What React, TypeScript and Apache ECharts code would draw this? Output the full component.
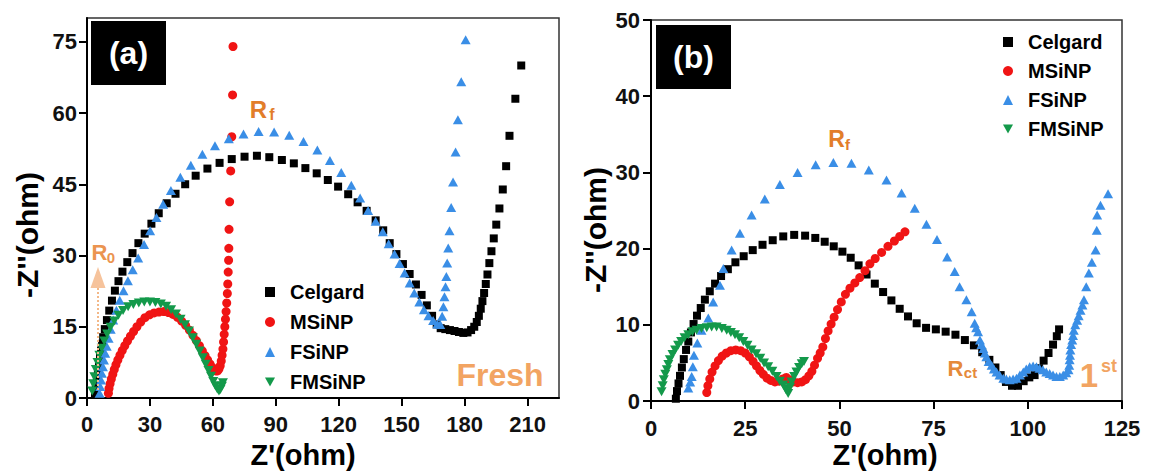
import React, { useEffect, useRef } from "react";
import * as echarts from "echarts";

// ---------- Data (Z', -Z'') ----------
const seriesNames = ["Celgard", "MSiNP", "FSiNP", "FMSiNP"];
const seriesColors = ["#000000", "#f01414", "#3a8ee6", "#13994a"];

const xTicksA = [0, 30, 60, 90, 120, 150, 180, 210];
const yTicksA = [0, 15, 30, 45, 60, 75];
const xTicksB = [0, 25, 50, 75, 100, 125];
const yTicksB = [0, 10, 20, 30, 40, 50];

const celgardA = [
  [3.8, 1], [4.2, 2.5], [4.7, 4], [5.2, 5.5], [5.7, 7], [6.2, 8.5], [6.7, 10], [7.2, 11.4], [7.7, 12.8],
  [8.5, 14.5], [9.5, 16.4], [10.6, 18.4], [11.9, 20.5], [13.3, 22.6], [15, 24.6], [16.9, 26.6], [19.2, 28.6],
  [21.7, 30.5], [24.5, 32.6], [27.5, 34.6], [30.7, 36.7], [34.2, 38.9], [38, 41], [42.2, 43], [46.8, 45],
  [51.8, 46.8], [57.4, 48.3], [63.2, 49.5], [69, 50.3], [75.1, 50.8], [81, 51], [86.9, 50.7], [92.9, 50.1],
  [98.6, 49.4], [104.1, 48.4], [109.5, 47.3], [114.8, 45.9], [119.7, 44.5], [124.5, 42.9], [129, 41.2],
  [133.3, 39.4], [137.6, 37.4], [141.2, 35.3], [144.3, 32.6], [147.5, 30.3], [150.6, 28.2], [153.8, 26.1],
  [156.8, 23.9], [159.5, 21.7], [162, 19.5], [164.5, 17.3], [166.7, 15.5], [168.6, 14.7], [170.8, 14.5],
  [173, 14.3], [175.2, 14.1], [177.3, 13.9], [179.4, 13.7], [181.4, 13.8], [183.1, 14.3], [184.6, 15],
  [185.8, 16], [186.8, 17.3], [187.7, 18.8], [188.5, 20.4], [189.3, 22.1], [190.1, 24], [190.9, 26],
  [191.8, 28.4], [192.8, 30.9], [193.9, 33.6], [195.1, 36.5], [196.6, 39.9], [198.2, 43.9], [199.8, 48.8],
  [201.4, 55.2], [204.2, 63], [207, 70],
];

const msinpA = [
  [10.2, 1], [10.5, 2], [11, 3], [11.6, 4], [12.3, 5], [13, 6], [13.8, 7], [14.7, 8], [15.7, 9], [16.8, 10],
  [18, 11], [19.3, 12], [20.7, 13], [22.2, 14], [23.8, 15], [25.6, 16], [27.6, 16.9], [29.8, 17.5], [32, 17.9],
  [34.3, 18.1], [36.6, 18.2], [38.8, 18], [41, 17.6], [43.1, 17], [45.1, 16.2], [47, 15.3], [48.8, 14.3],
  [50.5, 13.2], [52.1, 12.1], [53.6, 11], [55, 9.9], [56.3, 8.9], [57.5, 8], [58.6, 7.2], [59.6, 6.5],
  [60.5, 6], [61.4, 5.7], [62.2, 5.7], [62.9, 6.1], [63.5, 6.8], [64, 7.8], [64.4, 9], [64.8, 10.3],
  [65.1, 11.8], [65.4, 13.4], [65.7, 15], [66, 16.6], [66.3, 18.2], [66.6, 20], [66.9, 22], [67.1, 24],
  [67.3, 26.5], [67.5, 29], [67.6, 31.5], [67.7, 35.5], [68, 41.3], [68.5, 47.8], [69, 55], [69.4, 63.8],
  [69.6, 74],
];

const fsinpA = [
  [6, 1], [6.3, 2.4], [6.7, 3.8], [7.1, 5.2], [7.6, 6.6], [8.1, 8], [8.7, 9.4], [9.4, 10.9], [10.3, 12.6],
  [11.3, 14.5], [12.5, 16.4], [14, 18.5], [15.6, 20.6], [17.4, 22.6], [19.5, 24.7], [21.8, 27], [24.4, 29.5],
  [27.2, 32.3], [30.1, 35.2], [33.1, 38], [36.3, 40.8], [40, 43.7], [44.5, 46.5], [49.5, 49], [55, 51.3],
  [61, 53.1], [67.6, 54.6], [74.6, 55.6], [81.8, 56.1], [89.2, 56], [96.4, 55.3], [103.2, 54], [109.8, 52.2],
  [115.8, 50], [121.2, 47.5], [126, 44.8], [130.2, 42.1], [134, 39.5], [137.6, 37.2], [141, 35], [143.8, 32.5],
  [146.6, 30.3], [149, 28.3], [151.4, 26.3], [153.8, 24.2], [156, 22.1], [158.4, 20.2], [160.6, 18.6],
  [162.8, 17.3], [165, 16.3], [167, 15.6], [168.4, 15.5], [169.3, 17.2], [169.9, 19.2], [170.4, 21.3],
  [170.9, 23.4], [171.3, 25.6], [171.7, 28.4], [172.2, 31.6], [172.8, 35.2], [173.6, 40.1], [174.5, 45.5],
  [175.7, 51.8], [176.8, 58.6], [178.4, 66.6], [180.5, 75.4],
];

const fmsinpA = [
  [2.5, 1.5], [3, 3], [3.5, 4.5], [4.2, 6], [5, 7.5], [5.9, 9], [7, 10.5], [8.2, 12], [9.6, 13.5], [11.2, 14.9],
  [13, 16.2], [15, 17.4], [17.2, 18.4], [19.6, 19.2], [22.1, 19.7], [24.7, 20], [27.3, 20.2], [30, 20.2],
  [32.6, 20.1], [35.2, 19.8], [37.7, 19.3], [40.1, 18.6], [42.4, 17.7], [44.6, 16.6], [46.7, 15.4], [48.6, 14.1],
  [50.4, 12.7], [52.1, 11.3], [53.7, 9.9], [55.2, 8.5], [56.6, 7.1], [57.9, 5.8], [59.1, 4.6], [60.2, 3.5],
  [61.2, 2.6], [62.1, 1.9], [62.9, 1.5], [63.6, 1.8], [64.3, 2.5], [64.8, 3.2],
];

const celgardB = [
  [6.6, 0.3], [6.9, 1.3], [7.3, 2.3], [7.7, 3.3], [8.2, 4.4], [8.7, 5.5], [9.3, 6.7], [9.9, 7.8], [10.6, 9],
  [11.3, 10.1], [12.2, 11.2], [13.2, 12.2], [14.3, 13.3], [15.6, 14.4], [17, 15.4], [18.6, 16.4], [20.4, 17.3],
  [22.4, 18.2], [24.6, 19], [27, 19.8], [29.6, 20.5], [32.3, 21.1], [35.1, 21.6], [38, 21.8], [40.9, 21.7],
  [43.6, 21.4], [46.1, 20.9], [48.5, 20.3], [50.8, 19.6], [53, 18.8], [55.1, 17.8], [57.2, 16.6], [59.4, 15.4],
  [61.6, 14.3], [63.8, 13.2], [66, 12.1], [68.2, 11.1], [70.5, 10.2], [73, 9.6], [75.6, 9.4], [78.2, 9.1],
  [80.8, 8.7], [83.3, 8], [85.7, 7.3], [87.9, 6.4], [89.8, 5.4], [91.4, 4.4], [92.8, 3.4], [94.2, 2.5],
  [95.8, 2], [97.4, 2], [98.9, 2.6], [100.4, 3.1], [101.8, 3.4], [103, 4.3], [104.2, 5.3], [105.5, 6.3],
  [106.7, 7.4], [107.7, 8.5], [108.3, 9.4],
];

const msinpB = [
  [14.8, 1.1], [15.1, 2], [15.6, 2.9], [16.2, 3.8], [17, 4.6], [17.9, 5.3], [18.9, 5.9], [20, 6.3], [21.2, 6.6],
  [22.5, 6.7], [23.8, 6.6], [25, 6.3], [26.1, 5.8], [27.1, 5.2], [28, 4.6], [28.9, 4], [29.8, 3.5], [30.8, 3],
  [31.8, 2.7], [32.9, 2.5], [34, 2.6], [35, 2.9], [35.9, 3.1], [36.8, 2.8], [37.8, 2.5], [38.9, 2.4], [40, 2.5],
  [41, 2.8], [41.9, 3.3], [42.7, 3.9], [43.4, 4.7], [44.2, 5.6], [44.9, 6.3], [45.6, 7.1], [46.3, 8.2],
  [47, 9.2], [47.8, 10.1], [48.6, 11], [49.5, 12], [50.5, 13], [51.6, 14], [52.8, 14.8], [54.1, 15.5],
  [55.4, 16.2], [56.8, 17.1], [58.1, 18], [59.5, 18.7], [61.2, 19.5], [62.9, 20.3], [64.6, 21], [66, 21.6],
  [67.4, 22.2],
];

const fsinpB = [
  [9.9, 1.7], [10.4, 2.5], [10.8, 3.2], [11.1, 4.5], [11.4, 6], [12.3, 7.6], [13.4, 9.3], [15.2, 10.9],
  [16.5, 13], [18.3, 15.2], [19.2, 17.4], [21.4, 19.8], [23.6, 22], [26.7, 24.4], [30.2, 26.5], [34.2, 28.4],
  [38.9, 30], [43.7, 31], [48.4, 31.3], [53.2, 31.2], [57.8, 30.3], [62.5, 29], [66.5, 27.3], [70, 25.3],
  [73.1, 23.2], [75.9, 21.2], [78.6, 18.9], [80.6, 17], [81.9, 15], [83.7, 13.3], [85.1, 11.7], [85.9, 10.2],
  [86.3, 9.6], [86.8, 9.1], [87.3, 8], [87.7, 7.4], [88.2, 6.9], [88.6, 6.3], [89, 5.8], [89.6, 5.2],
  [90.4, 4.7], [91, 4.2], [91.7, 3.8], [92.5, 3.4], [93.5, 3], [94.3, 2.9], [95.2, 2.8], [96.1, 2.9], [97, 3],
  [97.9, 3.4], [98.8, 3.8], [99.6, 4.2], [100.5, 4.5], [101.4, 4.6], [102.3, 4.5], [103.1, 4.3], [104, 4.1],
  [104.9, 3.8], [105.8, 3.6], [106.7, 3.4], [107.6, 3.2], [108.5, 3.2], [109.4, 3.4], [110.2, 3.7],
  [110.8, 4.1], [111, 4.7], [111.1, 5.4], [111.2, 6], [111.3, 6.7], [111.5, 7.4], [111.8, 8], [112, 8.6],
  [112.2, 9.3], [112.6, 10], [113.1, 10.6], [113.5, 11.2], [114, 11.9], [114.5, 12.6], [114.9, 13.3],
  [115.5, 15], [116.2, 16.8], [117, 18.2], [118, 19.8], [118.3, 22.4], [118.4, 24.4], [119.3, 25.7],
  [121.3, 27.2],
];

const fmsinpB = [
  [2.8, 1.2], [3.1, 2], [3.4, 2.8], [3.8, 3.5], [4.2, 4.1], [4.6, 4.8], [5, 5.4], [5.7, 6.1], [6.4, 6.7],
  [7.2, 7.3], [8, 7.8], [8.9, 8.3], [9.9, 8.7], [11, 9.1], [12.1, 9.3], [13.4, 9.5], [14.8, 9.6], [16.1, 9.7],
  [17.4, 9.7], [18.8, 9.5], [20.1, 9.3], [21.2, 9], [22.3, 8.7], [23.4, 8.3], [24.5, 7.8], [25.6, 7.3],
  [26.7, 6.7], [27.9, 6.2], [29, 5.6], [30, 5], [31.1, 4.5], [32.2, 3.9], [33.3, 3.2], [34.2, 2.6], [35.1, 2.1],
  [35.8, 1.5], [36.4, 1], [36.9, 1.8], [37.3, 2.5], [38, 3.2], [38.6, 3.8], [39.3, 4.4], [40, 4.9], [40.6, 5.2],
];

const FONT = "'Liberation Sans', Arial, sans-serif";
const ORANGE = "#e27d2a";
const LIGHT_ORANGE = "#f2a462";

const symbols = ["rect", "circle", "triangle", "path://M0,0L10,0L5,9Z"];
const sizes: any[] = [8, 9, [10, 9], [10, 9]];

function makeSeries(idx: number, data: number[][], axisIndex: number) {
  return {
    name: seriesNames[idx],
    type: "scatter",
    xAxisIndex: axisIndex,
    yAxisIndex: axisIndex,
    data,
    symbol: symbols[idx],
    symbolSize: sizes[idx],
    itemStyle: { color: seriesColors[idx], opacity: 1 },
    emphasis: { disabled: true },
    silent: true,
  };
}

function axisCommon() {
  return {
    type: "value",
    splitLine: { show: false },
    axisLine: { show: true, onZero: false, lineStyle: { color: "#000", width: 2 } },
    axisTick: { show: true, inside: false, length: 8, lineStyle: { color: "#000", width: 2 } },
    axisLabel: { color: "#111", fontSize: 22, fontWeight: "bold", fontFamily: FONT },
  };
}

function text(x: number, y: number, t: string, size: number, color: string, extra: any = {}) {
  return {
    type: "text",
    x,
    y,
    z: 100,
    ...extra,
    style: {
      text: t,
      fill: color,
      fontSize: size,
      fontWeight: "bold",
      fontFamily: FONT,
      align: "center",
      verticalAlign: "middle",
    },
  };
}

export default function App() {
  const ref = useRef<HTMLDivElement>(null);
  useEffect(() => {
    if (!ref.current) return;
    const chart = echarts.init(ref.current, undefined, { renderer: "svg" });
    const legendCommon = {
      orient: "vertical",
      itemWidth: 10,
      itemHeight: 10,
      data: seriesNames,
      selectedMode: false,
      textStyle: {
        color: "#000",
        fontSize: 20,
        fontWeight: "bold",
        fontFamily: FONT,
        lineHeight: 20,
        padding: [0, 0, 0, 10],
      },
    };
    const option: any = {
      animation: false,
      grid: [
        { left: 87, top: 18, width: 472, height: 380, show: true, borderColor: "#333", borderWidth: 1.5 },
        { left: 651, top: 20, width: 471, height: 381, show: true, borderColor: "#333", borderWidth: 1.5 },
      ],
      xAxis: [
        {
          ...axisCommon(),
          gridIndex: 0,
          min: 0,
          max: 225,
          axisTick: { ...axisCommon().axisTick, customValues: xTicksA },
          axisLabel: { ...axisCommon().axisLabel, margin: 15, customValues: xTicksA },
        },
        {
          ...axisCommon(),
          gridIndex: 1,
          min: 0,
          max: 125,
          interval: 25,
          axisTick: { ...axisCommon().axisTick, customValues: xTicksB },
          axisLabel: { ...axisCommon().axisLabel, margin: 16, customValues: xTicksB },
        },
      ],
      yAxis: [
        {
          ...axisCommon(),
          gridIndex: 0,
          min: 0,
          max: 80,
          axisTick: { ...axisCommon().axisTick, customValues: yTicksA },
          axisLabel: { ...axisCommon().axisLabel, margin: 10, customValues: yTicksA },
        },
        {
          ...axisCommon(),
          gridIndex: 1,
          min: 0,
          max: 50,
          interval: 10,
          axisTick: { ...axisCommon().axisTick, customValues: yTicksB },
          axisLabel: { ...axisCommon().axisLabel, margin: 11, customValues: yTicksB },
        },
      ],
      legend: [
        { ...legendCommon, left: 260, top: 277, itemGap: 10 },
        { ...legendCommon, left: 998, top: 27, itemGap: 9 },
      ],
      series: [
        makeSeries(0, celgardA, 0),
        makeSeries(1, msinpA, 0),
        makeSeries(2, fsinpA, 0),
        makeSeries(3, fmsinpA, 0),
        makeSeries(0, celgardB, 1),
        makeSeries(1, msinpB, 1),
        makeSeries(2, fsinpB, 1),
        makeSeries(3, fmsinpB, 1),
      ],
      graphic: [
        // panel labels
        { type: "rect", z: 100, shape: { x: 91, y: 21, width: 75, height: 64 }, style: { fill: "#000" } },
        text(128.5, 53, "(a)", 32, "#fff"),
        { type: "rect", z: 100, shape: { x: 656, y: 25, width: 75, height: 64 }, style: { fill: "#000" } },
        text(693.5, 57, "(b)", 32, "#fff"),
        // axis titles
        text(303, 455, "Z'(ohm)", 29, "#000"),
        text(885, 455, "Z'(ohm)", 29, "#000"),
        text(27, 235, "-Z''(ohm)", 30, "#000", { rotation: Math.PI / 2 }),
        text(595, 230, "-Z''(ohm)", 30, "#000", { rotation: Math.PI / 2 }),
        // R0 arrow
        {
          type: "line",
          z: 90,
          shape: { x1: 98, y1: 390, x2: 98, y2: 288 },
          style: { stroke: "#f3b888", lineWidth: 2, lineDash: [2, 2] },
        },
        {
          type: "polygon",
          z: 90,
          shape: { points: [[98, 267], [90.5, 288], [105.5, 288]] },
          style: { fill: "#f6c39c" },
        },
        text(99.5, 252, "R", 22, "#eb9450"),
        text(111, 257, "0", 15, "#eb9450"),
        // Rf (a)
        text(258.5, 109, "R", 24, ORANGE),
        text(272, 114, "f", 16, ORANGE),
        // Fresh
        text(500, 375, "Fresh", 32, LIGHT_ORANGE),
        // Rf (b)
        text(836.5, 139, "R", 23, ORANGE),
        text(847.5, 144, "f", 15, ORANGE),
        // Rct
        text(955.5, 368, "R", 22, "#e58a3a"),
        text(970.5, 372, "ct", 15, "#e58a3a"),
        // 1st
        text(1089, 375, "1", 33, LIGHT_ORANGE),
        text(1109, 366, "st", 18, LIGHT_ORANGE),
      ],
    };
    chart.setOption(option);
    return () => chart.dispose();
  }, []);
  return (
    <div
      ref={ref}
      style={{ position: "absolute", left: 0, top: 0, width: 1149, height: 472, background: "#fff" }}
    />
  );
}
